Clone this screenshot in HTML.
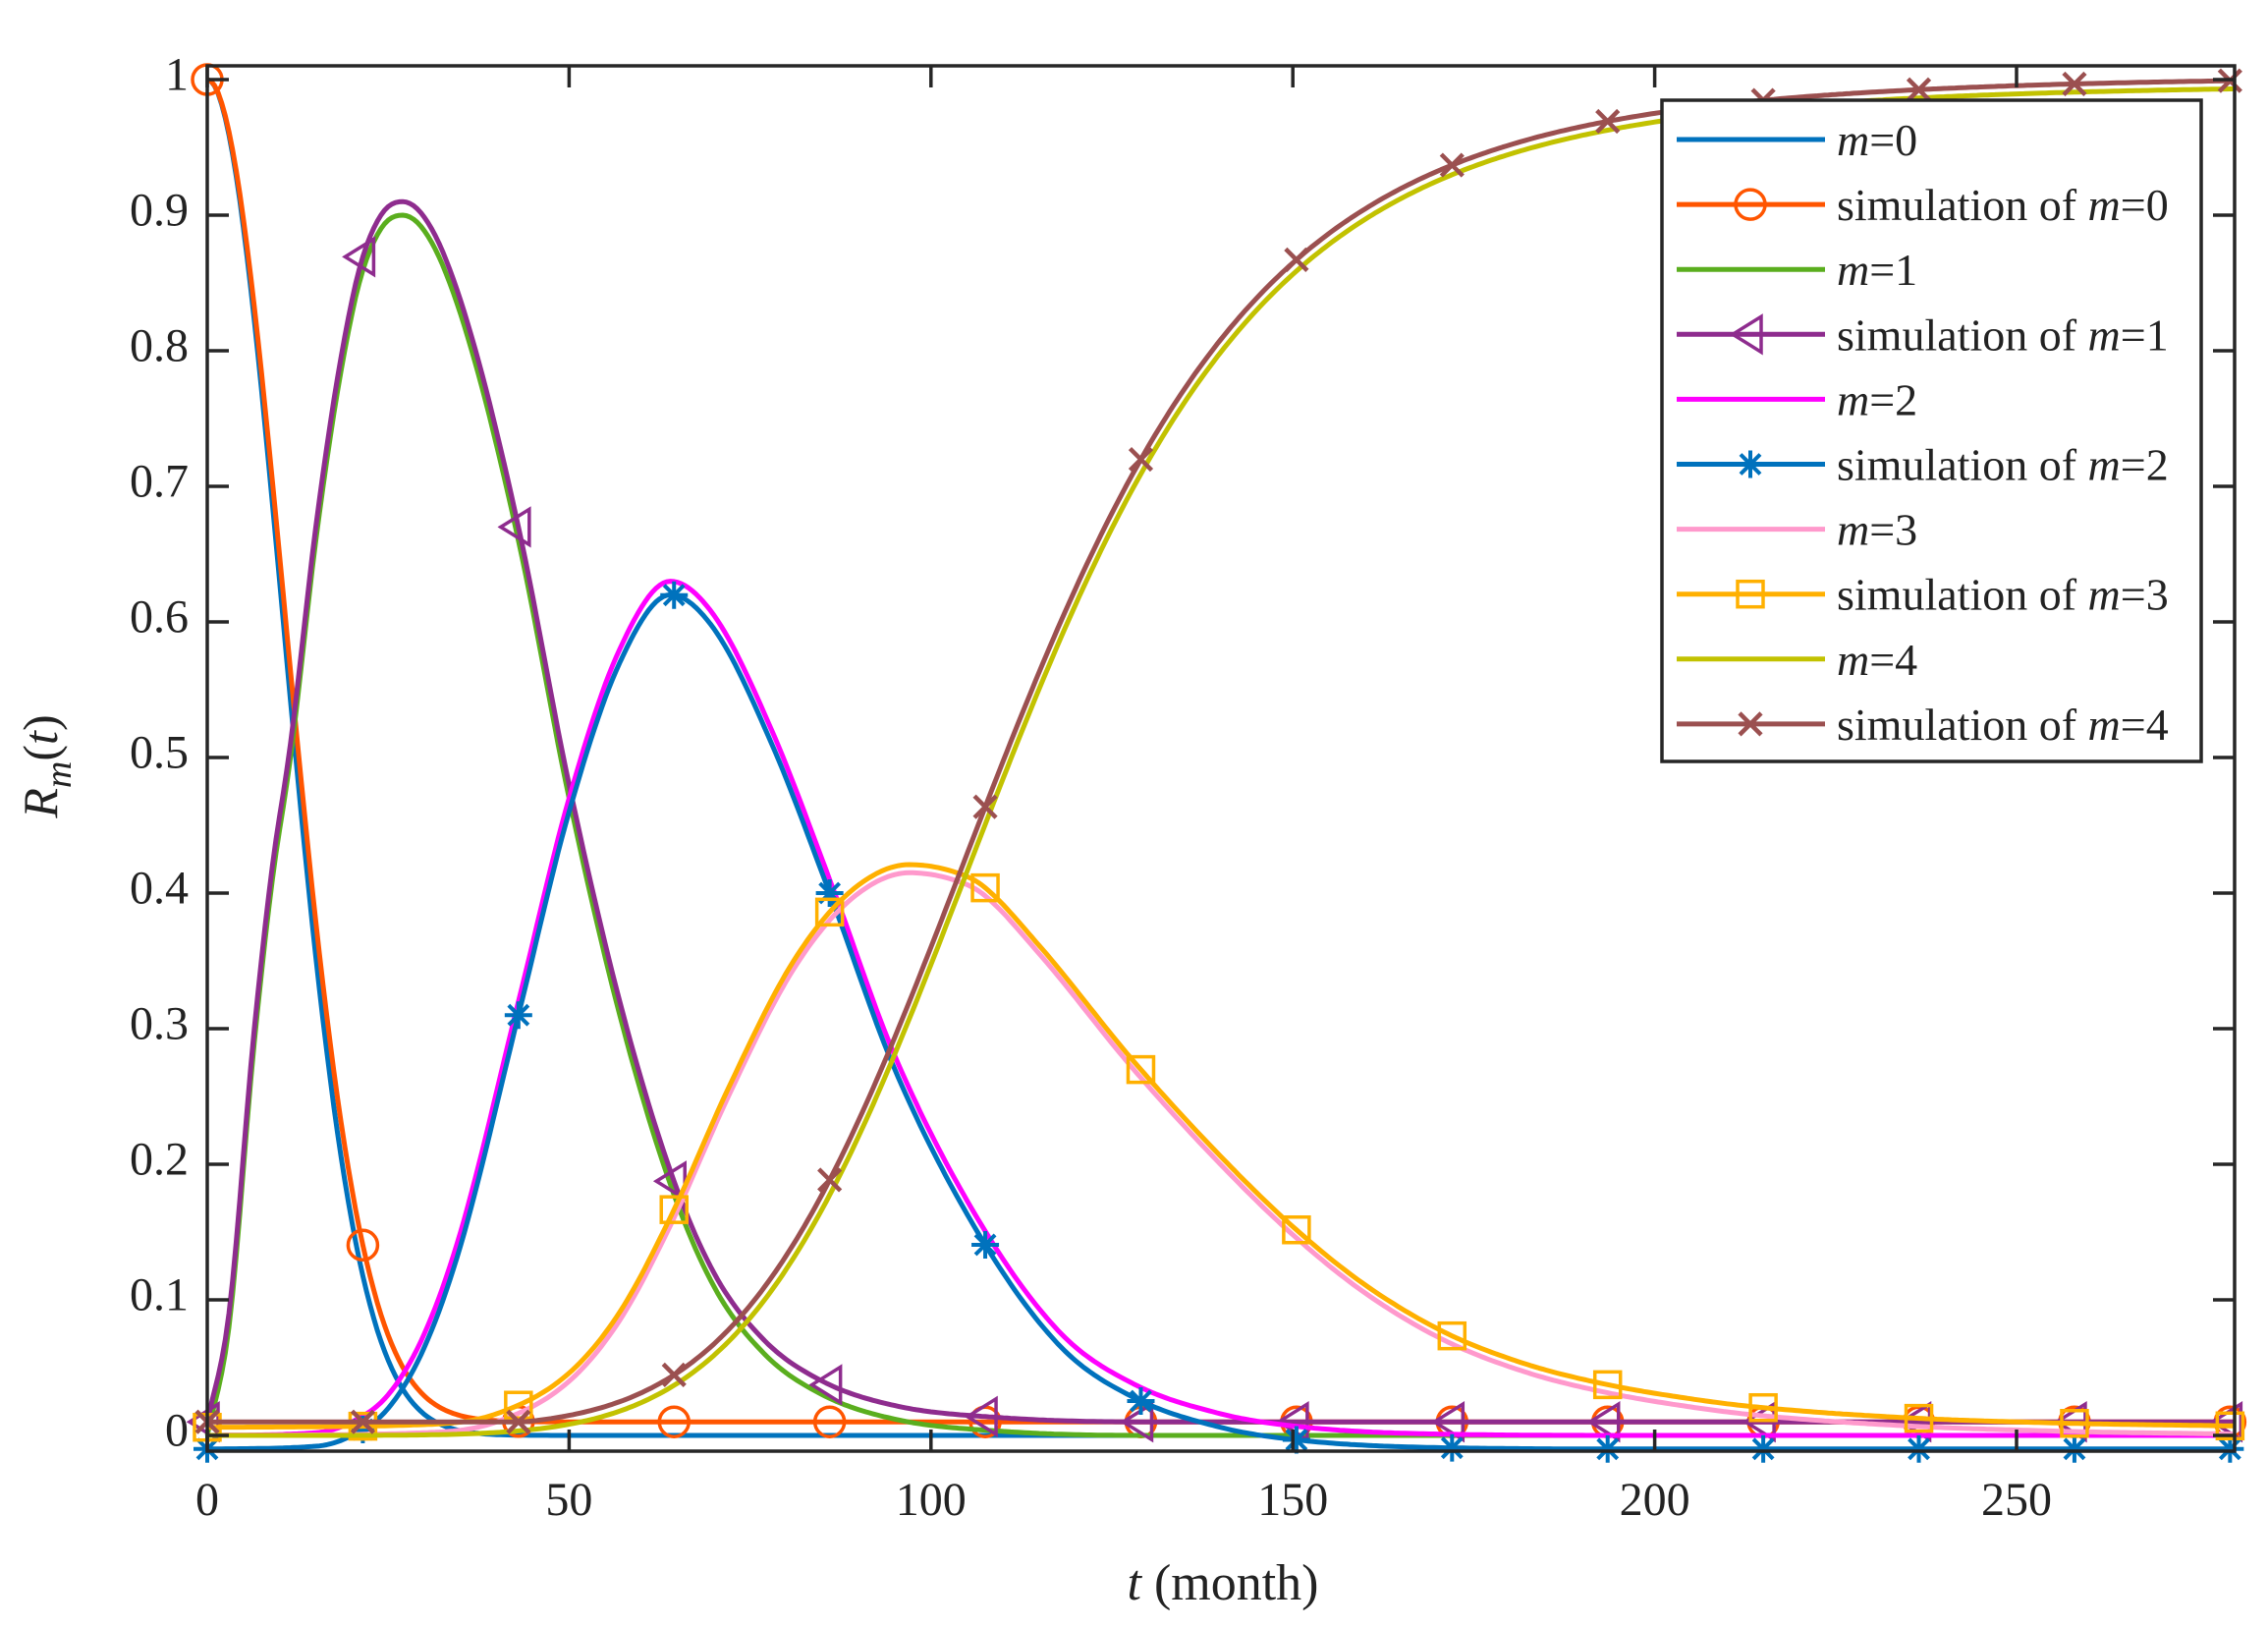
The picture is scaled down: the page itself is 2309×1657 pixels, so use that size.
<!DOCTYPE html>
<html><head><meta charset="utf-8">
<style>
html,body{margin:0;padding:0;background:#fff;}
svg text{font-family:"Liberation Serif",serif;fill:#222;}
</style></head>
<body>
<svg id="s" width="2309" height="1652" viewBox="0 0 2309 1652" xmlns="http://www.w3.org/2000/svg">
<rect width="2309" height="1652" fill="#fff"/>
<g id="curves"></g>
<g id="axes"></g>
<g id="legend"></g>
</svg>
<script>
const NS="http://www.w3.org/2000/svg";
const X=t=>211+t*7.368, Y=v=>1461-v*1380;
function el(tag,attrs,parent,txt){const e=document.createElementNS(NS,tag);for(const k in attrs)e.setAttribute(k,attrs[k]);if(txt!==undefined)e.textContent=txt;parent.appendChild(e);return e;}
function mono(pts){const n=pts.length,xs=pts.map(p=>p[0]),ys=pts.map(p=>p[1]);const d=[],m=[];
for(let i=0;i<n-1;i++)d.push((ys[i+1]-ys[i])/(xs[i+1]-xs[i]));
m[0]=d[0];m[n-1]=d[n-2];for(let i=1;i<n-1;i++){if(d[i-1]*d[i]<=0)m[i]=0;else{m[i]=(d[i-1]+d[i])/2;}}
for(let i=0;i<n-1;i++){if(d[i]===0){m[i]=0;m[i+1]=0;continue;}const a=m[i]/d[i],b=m[i+1]/d[i];const s=a*a+b*b;if(s>9){const t=3/Math.sqrt(s);m[i]=t*a*d[i];m[i+1]=t*b*d[i];}}
return t=>{if(t<=xs[0])return ys[0];if(t>=xs[n-1])return ys[n-1];let i=0;while(t>xs[i+1])i++;const h=xs[i+1]-xs[i],u=(t-xs[i])/h;
const h00=2*u*u*u-3*u*u+1,h10=u*u*u-2*u*u+u,h01=-2*u*u*u+3*u*u,h11=u*u*u-u*u;return h00*ys[i]+h10*h*m[i]+h01*ys[i+1]+h11*h*m[i+1];};}
const m0=t=>Math.exp(-Math.pow(t/14.7,2));
const m1=mono([[0,0],[3,0.08],[6.5,0.29],[9,0.41],[11.5,0.5],[15,0.66],[18,0.77],[21,0.85],[24,0.89],[27,0.9],[31,0.88],[36,0.81],[43,0.66],[50,0.47],[57,0.31],[64,0.185],[70,0.11],[77,0.06],[85,0.03],[95,0.012],[110,0.003],[130,0],[280,0]]);
const m2=mono([[0,0],[15,0.002],[20,0.01],[25,0.03],[30,0.075],[35,0.15],[43,0.32],[50,0.47],[57,0.58],[64,0.63],[70,0.605],[78,0.52],[86,0.41],[95,0.28],[107,0.155],[118,0.075],[128,0.038],[140,0.016],[150,0.007],[170,0.001],[200,0],[280,0]]);
const m3=mono([[0,0],[30,0.002],[40,0.01],[50,0.04],[57,0.085],[64,0.155],[72,0.25],[80,0.335],[86,0.38],[92,0.407],[97,0.415],[103,0.41],[107,0.4],[115,0.355],[128,0.27],[140,0.2],[150,0.148],[160,0.105],[171,0.07],[182,0.047],[193,0.032],[205,0.021],[214,0.015],[235,0.007],[257,0.003],[280,0.001]]);
const m4=t=>t<=0.01?0:0.997/(1+Math.pow(111/t,6));
const s0=t=>0.01+0.99*Math.exp(-Math.pow(t/15.1,2));
const s1=t=>m1(t)+0.01;
const s2=t=>m2(t)-0.01;
const s3=t=>m3(t)+0.006;
const s4=t=>Math.max(0.01,m4(t+0.5)+0.006);
const C={b:"#0072BD",o:"#FF5500",g:"#5AAE1E",p:"#8E2C8E",mg:"#FF00FF",pk:"#FF99CC",y:"#FFB000",ol:"#C2C200",br:"#9B5050"};
const cg=document.getElementById("curves");
function curve(f,col,w){let d="";for(let t=0;t<=280;t+=0.5){d+=(t?"L":"M")+X(t).toFixed(1)+","+Y(f(t)).toFixed(1);}el("path",{d,fill:"none",stroke:col,"stroke-width":w,"stroke-linejoin":"round"},cg);}
function marker(type,x,y,col,g){g=g||cg;const sw=3.5;
if(type=="o")el("circle",{cx:x,cy:y,r:15,fill:"none",stroke:col,"stroke-width":sw},g);
else if(type=="<")el("polygon",{points:`${x-18},${y} ${x+11},${y-18} ${x+11},${y+18}`,fill:"none",stroke:col,"stroke-width":sw},g);
else if(type=="*"){const r=14;el("path",{d:`M${x-r},${y}H${x+r}M${x},${y-r}V${y+r}M${x-10},${y-10}L${x+10},${y+10}M${x-10},${y+10}L${x+10},${y-10}`,stroke:col,"stroke-width":4},g);}
else if(type=="s")el("rect",{x:x-13,y:y-13,width:26,height:26,fill:"none",stroke:col,"stroke-width":sw},g);
else if(type=="x"){const r=11;el("path",{d:`M${x-r},${y-r}L${x+r},${y+r}M${x-r},${y+r}L${x+r},${y-r}`,stroke:col,"stroke-width":4.5},g);}}
const series=[[m0,C.b],[s0,C.o,"o"],[m1,C.g],[s1,C.p,"<"],[m2,C.mg],[s2,C.b,"*"],[m3,C.pk],[s3,C.y,"s"],[m4,C.ol],[s4,C.br,"x"]];
for(const s of series){curve(s[0],s[1],5);if(s[2]){for(let i=0;i<14;i++){const t=Math.min(i*21.5,279.5);marker(s[2],X(t),Y(s[0](t)),s[1]);}}}
const ag=document.getElementById("axes");const ax="#262626";
el("rect",{x:211,y:67,width:2064,height:1410,fill:"none",stroke:ax,"stroke-width":3.5},ag);
for(let i=0;i<=10;i++){const v=i/10,y=Y(v);el("path",{d:`M211,${y}h22M2275,${y}h-22`,stroke:ax,"stroke-width":3.5},ag);
el("text",{x:192,y:y-5,"text-anchor":"end","dominant-baseline":"central","font-size":48},ag,i==10?"1":i==0?"0":v.toFixed(1));}
for(let t=0;t<=250;t+=50){const x=X(t);el("path",{d:`M${x},1477v-22M${x},67v22`,stroke:ax,"stroke-width":3.5},ag);
el("text",{x:x,y:1542,"text-anchor":"middle","font-size":48},ag,String(t));}
const xl=el("text",{x:1245,y:1628,"text-anchor":"middle","font-size":52},ag);
el("tspan",{"font-style":"italic"},xl,"t");el("tspan",{},xl," (month)");
const yl=el("text",{x:0,y:0,transform:"translate(58,780) rotate(-90)","text-anchor":"middle","font-size":50},ag);
el("tspan",{"font-style":"italic"},yl,"R");el("tspan",{"font-style":"italic","font-size":38,dy:14},yl,"m");el("tspan",{dy:-14},yl,"(");el("tspan",{"font-style":"italic"},yl,"t");el("tspan",{},yl,")");
const lg=document.getElementById("legend");
el("rect",{x:1692,y:102,width:549,height:673,fill:"#fff",stroke:ax,"stroke-width":3.5},lg);
const labels=[["m=0"],["simulation of ","m=0"],["m=1"],["simulation of ","m=1"],["m=2"],["simulation of ","m=2"],["m=3"],["simulation of ","m=3"],["m=4"],["simulation of ","m=4"]];
for(let i=0;i<10;i++){const y=142+i*66.1;const s=series[i];
el("path",{d:`M1707,${y}H1858`,stroke:s[1],"stroke-width":5},lg);
if(s[2])marker(s[2],1782,y,s[1],lg);
const tx=el("text",{x:1870,y:y,"dominant-baseline":"central","font-size":46},lg);
const L=labels[i];const eq=L[L.length-1];
if(L.length>1)el("tspan",{},tx,L[0]);
el("tspan",{"font-style":"italic"},tx,"m");el("tspan",{},tx,eq.slice(1));}
</script>
</body></html>
